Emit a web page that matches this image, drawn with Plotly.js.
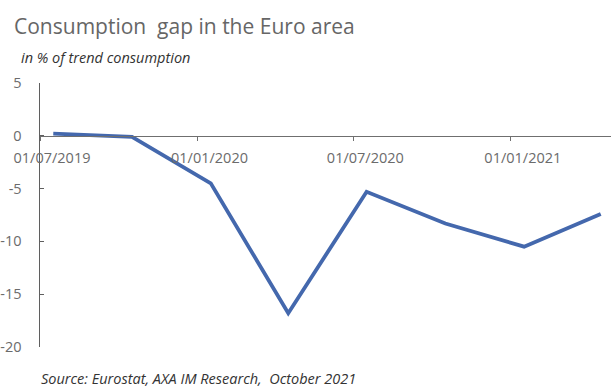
<!DOCTYPE html>
<html>
<head>
<meta charset="utf-8">
<script src="https://cdn.plot.ly/plotly-3.0.1.min.js"></script>
<style>html,body{margin:0;padding:0;background:#fff;}#chart{width:611px;height:387px;}</style>
</head>
<body>
<div id="chart"></div>
<script>
// Data (quarterly, Euro area consumption gap, % of trend consumption)
const quarters = ['2019-07-01','2019-10-01','2020-01-01','2020-04-01','2020-07-01','2020-10-01','2021-01-01','2021-04-01'];
const consumptionGap = [0.2, -0.1, -4.5, -16.8, -5.3, -8.3, -10.5, -7.4];
const tickDates = ['2019-07-01','2020-01-01','2020-07-01','2021-01-01'];
const tickLabels = ['01/07/2019','01/01/2020','01/07/2020','01/01/2021'];
const yTicks = [5, 0, -5, -10, -15, -20];

const textGrey = '#6b6b6b';

const trace = {
  x: quarters,
  y: consumptionGap,
  xperiod: 'M1',
  xperiodalignment: 'middle',
  type: 'scatter',
  mode: 'lines',
  line: {color: '#4468ad', width: 3.8},
  hoverinfo: 'skip'
};

const layout = {
  width: 611, height: 387,
  margin: {l: 40, r: 0, t: 83, b: 40, pad: 0},
  paper_bgcolor: '#ffffff', plot_bgcolor: '#ffffff',
  showlegend: false,
  font: {family: 'Open Sans, sans-serif', color: textGrey, size: 14},
  xaxis: {
    type: 'date',
    range: ['2019-07-01', '2021-04-28'],
    anchor: 'free', position: 0.8,
    showline: true, linecolor: '#6f6f6f', linewidth: 1.5,
    showgrid: false, zeroline: false,
    tickmode: 'array', tickvals: tickDates, ticktext: tickLabels,
    ticks: 'outside', ticklen: 4, tickcolor: '#6f6f6f', tickwidth: 1,
    ticklabelshift: 12, ticklabelstandoff: 4,
    tickfont: {size: 14.5, color: textGrey}
  },
  yaxis: {
    range: [-20, 5],
    showline: true, linecolor: '#5f5f5f', linewidth: 1.5,
    showgrid: false, zeroline: false,
    tickmode: 'array', tickvals: yTicks, ticktext: yTicks.map(String),
    ticks: 'inside', ticklen: 4, tickcolor: '#5f5f5f',
    ticklabelstandoff: 14,
    tickfont: {size: 14.5, color: textGrey}
  },
  annotations: [
    {text: 'Consumption  gap in the Euro area', xref: 'paper', yref: 'paper',
     x: -28/571, y: 1 + (83-26)/264, xanchor: 'left', yanchor: 'middle', showarrow: false,
     font: {family: 'Open Sans, sans-serif', size: 21, color: '#666666'}},
    {text: '<i>in % of trend consumption</i>', xref: 'paper', yref: 'paper',
     x: -21/571, y: 1 + (83-58)/264, xanchor: 'left', yanchor: 'middle', showarrow: false,
     font: {family: 'Open Sans, sans-serif', size: 14.5, color: '#333333'}},
    {text: '<i>Source: Eurostat, AXA IM Research,  October 2021</i>', xref: 'paper', yref: 'paper',
     x: -1/571, y: -(378-347)/264, xanchor: 'left', yanchor: 'middle', showarrow: false,
     font: {family: 'Open Sans, sans-serif', size: 14.5, color: '#333333'}}
  ]
};

Plotly.newPlot('chart', [trace], layout, {staticPlot: true, displayModeBar: false});
</script>
</body>
</html>
